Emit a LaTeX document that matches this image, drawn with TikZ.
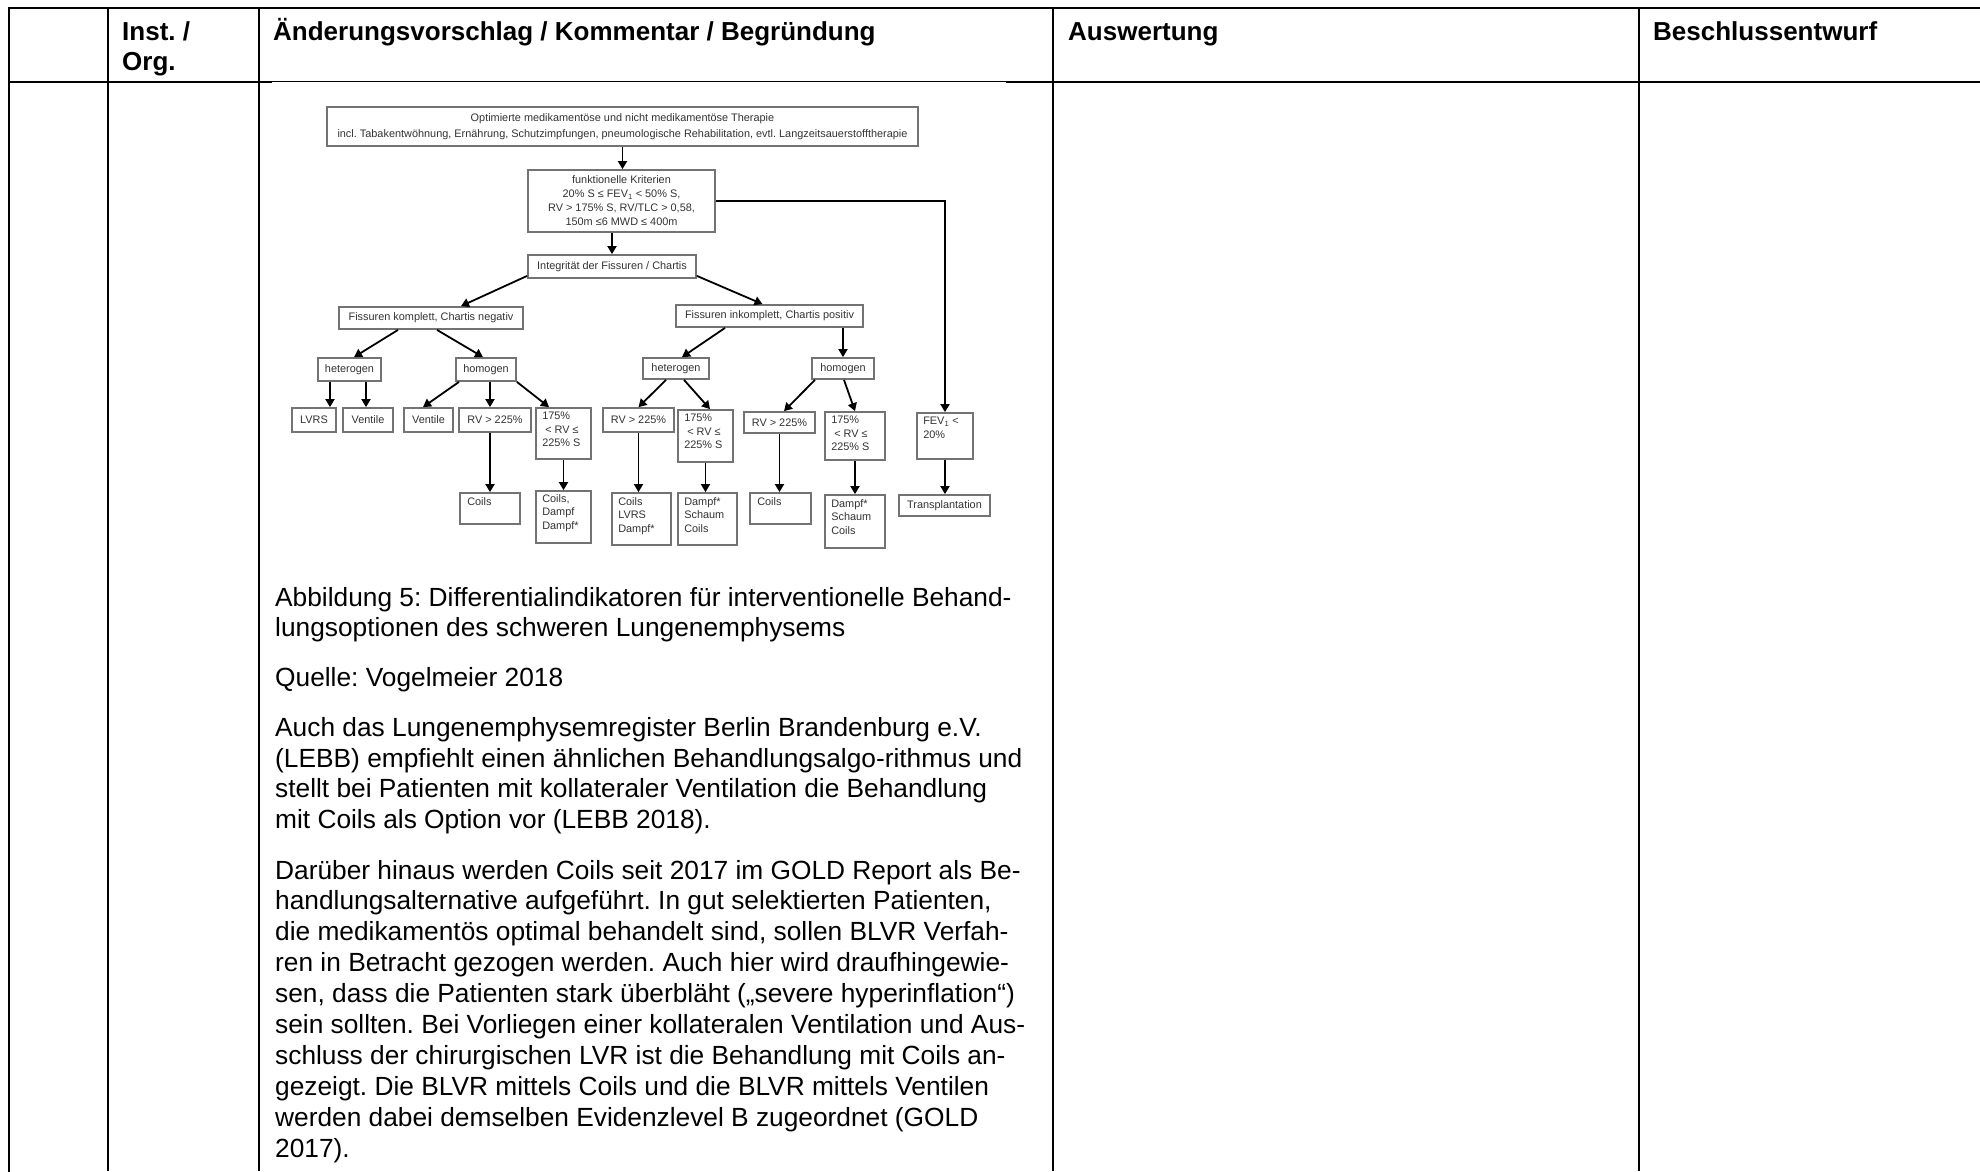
\documentclass[tikz,border=0pt]{standalone}
\usepackage{fontspec}
\setmainfont{Liberation Sans}
\usetikzlibrary{arrows.meta,fit}
\newcommand\fcbox[5]{\node[bx,fit={(#2,#3) (#4,#5)}] (#1) {};}
\frenchspacing
\begin{document}
\begin{tikzpicture}[x=1pt,y=-1pt,
  tline/.style={line width=2.6pt,black},
  hdr/.style={font=\fontsize{26}{30}\selectfont\bfseries,anchor=base west,inner sep=0},
  body/.style={font=\fontsize{26.3}{30.5}\selectfont,anchor=base west,inner sep=0},
  bx/.style={draw=black!55,line width=1.8pt,inner sep=0pt,fill=white},
  ft/.style={font=\fontsize{10.9}{13.5}\selectfont,text=black!80,inner sep=0pt},
  arr/.style={line width=1.8pt,-{Triangle[length=8pt,width=9pt]}}]
\useasboundingbox (0,0) rectangle (1980,1171);
% ---------------- table ----------------
\draw[tline,line cap=rect] (9,1171) -- (9,8) -- (1980,8);
\foreach \cx in {108,259,1053,1639} \draw[tline] (\cx,8) -- (\cx,1171);
\draw[tline] (9,82) -- (272,82);
\draw[tline] (1006,82) -- (1980,82);
\draw[line width=1.3pt] (272,81.5) -- (1006,81.5);
% header
\node[hdr] (h1a) at (122,40) {Inst. /};
\node[hdr] (h1b) at (122,70) {Org.};
\node[hdr] (h2) at (273,40) {Änderungsvorschlag / Kommentar / Begründung};
\node[hdr] (h3) at (1068,40) {Auswertung};
\node[hdr] (h4) at (1653,40) {Beschlussentwurf};
% ---------------- body text ----------------
\foreach \t [count=\i] in {{Abbildung 5: Differentialindikatoren für interventionelle Behand-},
  {lungsoptionen des schweren Lungenemphysems}}
  \node[body] (pa-\i) at (275,{606+(\i-1)*30.5}) {\t};
\node[body] (pb-1) at (275,686.5) {Quelle: Vogelmeier 2018};
\foreach \t [count=\i] in {{Auch das Lungenemphysemregister Berlin Brandenburg e.V.},
  {(LEBB) empfiehlt einen ähnlichen Behandlungsalgo-rithmus und},
  {stellt bei Patienten mit kollateraler Ventilation die Behandlung},
  {mit Coils als Option vor (LEBB 2018).}}
  \node[body] (pc-\i) at (275,{736.5+(\i-1)*30.5}) {\t};
\foreach \t [count=\i] in {{Darüber hinaus werden Coils seit 2017 im GOLD Report als Be-},
  {handlungsalternative aufgeführt. In gut selektierten Patienten,},
  {die medikamentös optimal behandelt sind, sollen BLVR Verfah-},
  {ren in Betracht gezogen werden. Auch hier wird draufhingewie-},
  {sen, dass die Patienten stark überbläht („severe hyperinflation“)},
  {sein sollten. Bei Vorliegen einer kollateralen Ventilation und Aus-},
  {schluss der chirurgischen LVR ist die Behandlung mit Coils an-},
  {gezeigt. Die BLVR mittels Coils und die BLVR mittels Ventilen},
  {werden dabei demselben Evidenzlevel B zugeordnet (GOLD},
  {2017).}}
  \node[body] (pd-\i) at (275,{879+(\i-1)*30.9}) {\t};
% ---------------- flowchart ----------------
\fcbox{T}{327}{107}{918}{146}
\fcbox{K}{528}{170}{715}{232}
\fcbox{I}{528}{255}{696}{278}
\fcbox{FK}{339}{307}{523}{329}
\fcbox{FI}{676}{305}{863}{327}
\fcbox{HE1}{318}{358}{381}{381}
\fcbox{HO1}{456}{358}{516}{381}
\fcbox{HE2}{643}{358}{709}{379}
\fcbox{HO2}{812}{358}{874}{379}
\fcbox{L1}{292}{408}{336}{432}
\fcbox{L2}{343}{408}{393}{432}
\fcbox{L3}{404}{408}{453}{432}
\fcbox{L4}{459}{408}{531}{432}
\fcbox{L5}{536}{408}{591}{459}
\fcbox{L6}{603}{408}{674}{432}
\fcbox{L7}{678}{410}{733}{462}
\fcbox{L8}{744}{412}{815}{433}
\fcbox{L9}{825}{412}{885}{460}
\fcbox{L10}{917}{413}{973}{459}
\fcbox{B1}{460}{493}{520}{524}
\fcbox{B2}{536}{491}{591}{543}
\fcbox{B3}{612}{493}{671}{545}
\fcbox{B4}{678}{493}{737}{545}
\fcbox{B5}{750}{493}{811}{524}
\fcbox{B6}{825}{495}{885}{548}
\fcbox{B7}{899}{495}{990}{516}
% texts
\node[ft,align=center,font=\fontsize{10.9}{16}\selectfont] (T-t) at (T.center) {Optimierte medikamentöse und nicht medikamentöse Therapie\\incl. Tabakentwöhnung, Ernährung, Schutzimpfungen, pneumologische Rehabilitation, evtl. Langzeitsauerstofftherapie};
\node[ft,align=center,font=\fontsize{10.9}{14}\selectfont] (K-t) at (K.center) {funktionelle Kriterien\\20\% S ≤ FEV\textsubscript{1} < 50\% S,\\RV > 175\% S, RV/TLC > 0,58,\\150m ≤6 MWD ≤ 400m};
\node[ft] (I-t) at (I.center) {Integrität der Fissuren / Chartis};
\node[ft] (FK-t) at (FK.center) {Fissuren komplett, Chartis negativ};
\node[ft] (FI-t) at (FI.center) {Fissuren inkomplett, Chartis positiv};
\node[ft] (HE1-t) at (HE1.center) {heterogen};
\node[ft] (HO1-t) at (HO1.center) {homogen};
\node[ft] (HE2-t) at (HE2.center) {heterogen};
\node[ft] (HO2-t) at (HO2.center) {homogen};
\node[ft] (L1-t) at (L1.center) {LVRS};
\node[ft] (L2-t) at (L2.center) {Ventile};
\node[ft] (L3-t) at (L3.center) {Ventile};
\node[ft] (L4-t) at (L4.center) {RV > 225\%};
\node[ft] (L6-t) at (L6.center) {RV > 225\%};
\node[ft] (L8-t) at (L8.center) {RV > 225\%};
\foreach \b in {L5,L7,L9}
  \node[ft,align=left,anchor=north west] (\b-t) at ([shift={(7,5)}]\b.north west) {175\%\\\hspace{3pt}< RV ≤\\225\% S};
\node[ft,align=left,anchor=north west] (L10-t) at ([shift={(7,5)}]L10.north west) {FEV\textsubscript{1} <\\20\%};
\node[ft,anchor=north west] (B1-t) at ([shift={(8,5)}]B1.north west) {Coils};
\node[ft,align=left,anchor=north west] (B2-t) at ([shift={(7,4)}]B2.north west) {Coils,\\Dampf\\Dampf*};
\node[ft,align=left,anchor=north west] (B3-t) at ([shift={(7,5)}]B3.north west) {Coils\\LVRS\\Dampf*};
\node[ft,align=left,anchor=north west] (B4-t) at ([shift={(7,5)}]B4.north west) {Dampf*\\Schaum\\Coils};
\node[ft,anchor=north west] (B5-t) at ([shift={(8,5)}]B5.north west) {Coils};
\node[ft,align=left,anchor=north west] (B6-t) at ([shift={(7,5)}]B6.north west) {Dampf*\\Schaum\\Coils};
\node[ft] (B7-t) at (B7.center) {Transplantation};
% arrows
\draw[arr] (T.south) -- (T.south |- K.north);
\draw[arr] (I.north |- K.south) -- (I.north);
\draw[arr] ([yshift=3pt]I.south west) -- ([xshift=30pt]FK.north);
\draw[arr] ([yshift=3pt]I.south east) -- ([xshift=-7pt]FI.north);
\draw[arr] ([xshift=-33pt]FK.south) -- ([xshift=4.5pt]HE1.north);
\draw[arr] ([xshift=6pt]FK.south) -- ([xshift=-3pt]HO1.north);
\draw[arr] ([xshift=-44.5pt]FI.south) -- ([xshift=6pt]HE2.north);
\draw[arr] (HO2.north |- FI.south) -- (HO2.north);
\draw[arr] ([xshift=-19.5pt]HE1.south) -- ([xshift=-19.5pt]HE1.south |- L1.north);
\draw[arr] ([xshift=16.5pt]HE1.south) -- ([xshift=16.5pt]HE1.south |- L2.north);
\draw[arr] ([xshift=-27pt]HO1.south) -- ([xshift=-5.5pt]L3.north);
\draw[arr] ([xshift=4pt]HO1.south) -- ([xshift=4pt]HO1.south |- L4.north);
\draw[arr] (HO1.south east) -- ([xshift=-14.5pt]L5.north);
\draw[arr] ([xshift=-10pt]HE2.south) -- (L6.north);
\draw[arr] ([xshift=8pt]HE2.south) -- ([xshift=4.5pt]L7.north);
\draw[arr] ([xshift=-28pt]HO2.south) -- ([xshift=4.5pt]L8.north);
\draw[arr] ([xshift=1pt]HO2.south) -- (L9.north);
\draw[arr,line width=2.2pt] (K.east) -| (L10.north);
\draw[arr] (B1.north |- L4.south) -- (B1.north);
\draw[arr] (L5.south) -- (B2.north);
\draw[arr] (L6.south) -- (L6.south |- B3.north);
\draw[arr] (L7.south) -- (L7.south |- B4.north);
\draw[arr] (L8.south) -- (L8.south |- B5.north);
\draw[arr] (L9.south) -- (B6.north);
\draw[arr] (L10.south) -- (L10.south |- B7.north);
\end{tikzpicture}
\end{document}
